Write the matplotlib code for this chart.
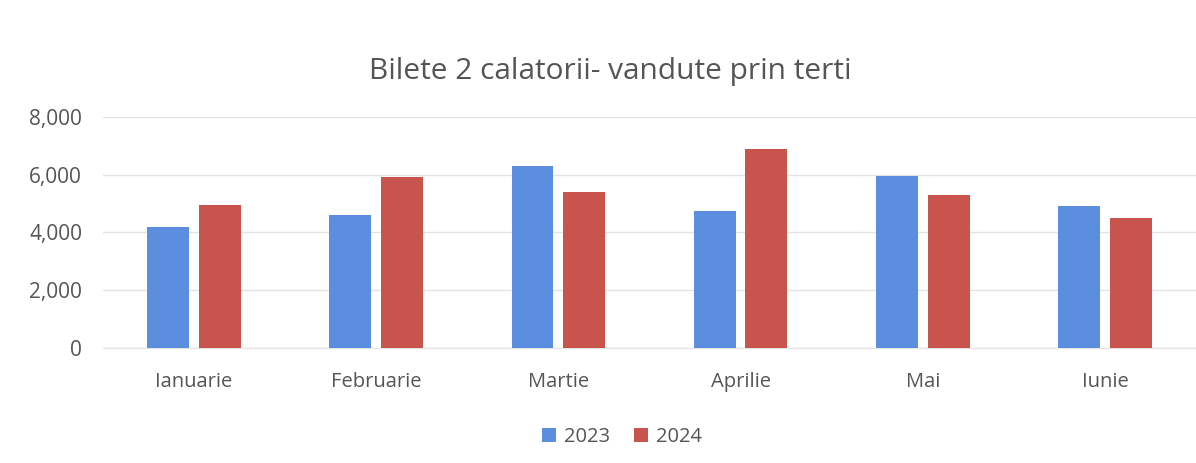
import numpy as np
import matplotlib
matplotlib.use("Agg")
from matplotlib import pyplot as plt

# values
luni = ["Ianuarie", "Februarie", "Martie", "Aprilie", "Mai", "Iunie"]
vanzari_2023 = [4200, 4600, 6300, 4750, 5950, 4900]
vanzari_2024 = [4950, 5900, 5400, 6900, 5300, 4500]
y_ticks = [0, 2000, 4000, 6000, 8000]

plt.rcParams['font.family'] = ['Open Sans', 'DejaVu Sans']
text_col = '#555555'

fig = plt.figure(figsize=(11.96, 4.63), dpi=100)
ax = fig.add_axes([0.086, 0.248, 0.914, 0.50])

x = np.arange(len(luni))
w = 0.23
off = 0.142
ax.bar(x - off, vanzari_2023, width=w, color='#5b8ede', label='2023', zorder=3)
ax.bar(x + off, vanzari_2024, width=w, color='#c9534d', label='2024', zorder=3)

ax.set_xlim(-0.5, len(luni) - 0.5)
ax.set_ylim(0, 8000)
ax.set_yticks(y_ticks)
ax.set_yticklabels([f"{v:,}" for v in y_ticks])
ax.set_xticks(x)
ax.set_xticklabels(luni)
ax.tick_params(axis='y', length=0, pad=15, labelsize=15, labelcolor=text_col)
ax.tick_params(axis='x', length=0, pad=17, labelsize=14.5, labelcolor=text_col)

ax.grid(axis='y', color='#e3e3e3', linewidth=1, zorder=0)
for s in ['top', 'right', 'left']:
    ax.spines[s].set_visible(False)
ax.spines['bottom'].set_color('#e3e3e3')

fig.text(0.51, 0.845, "Bilete 2 calatorii- vandute prin terti", ha='center', va='center',
         fontsize=21.5, color=text_col)

leg = fig.legend(loc='center', bbox_to_anchor=(0.52, 0.056), ncol=2, frameon=False,
                 fontsize=14.5, handlelength=0.7, handleheight=0.7, handletextpad=0.4,
                 columnspacing=1.2)
for t in leg.get_texts():
    t.set_color(text_col)

fig.savefig("out.png", dpi=100)
